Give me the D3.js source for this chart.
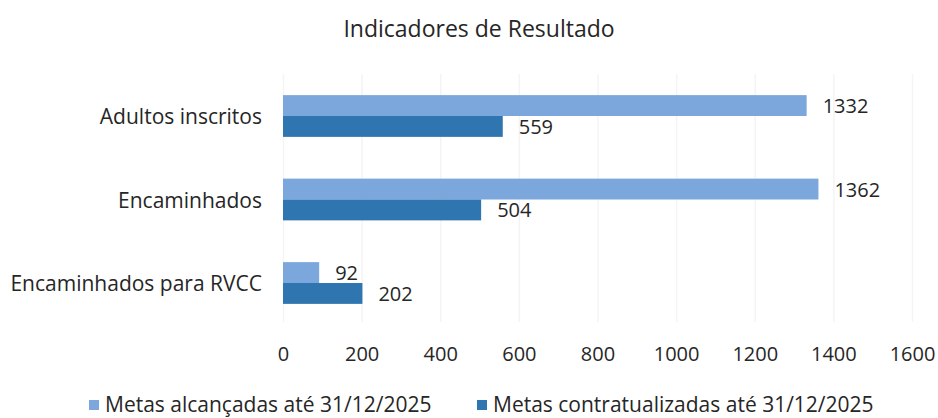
<!DOCTYPE html>
<html>
<head>
<meta charset="utf-8">
<script src="https://cdn.jsdelivr.net/npm/d3@7"></script>
<style>
  body { margin: 0; background: #fff; }
  svg text { font-family: 'Open Sans', sans-serif; fill: #262626; }
  .grid line { stroke: #f4f4f4; stroke-width: 1.5; }
  .grid .domain { display: none; }
</style>
</head>
<body>
<svg id="canvas" width="938" height="418"></svg>
<script>
const categories = ['Adultos inscritos', 'Encaminhados', 'Encaminhados para RVCC'];
const seriesNames = ['Metas alcançadas até 31/12/2025', 'Metas contratualizadas até 31/12/2025'];
const alcancadas = [1332, 1362, 92];
const contratualizadas = [559, 504, 202];
const xTicks = [0, 200, 400, 600, 800, 1000, 1200, 1400, 1600];
const colors = ['#7ba7dd', '#2f75b0'];

const canvas = d3.select('#canvas');

const x = d3.scaleLinear().domain([0, 1600]).range([283, 912]);
const y = d3.scaleBand().domain(categories).range([74.25, 324.75])
  .paddingInner(0.5).paddingOuter(0.25);
const ySub = d3.scaleBand().domain(seriesNames).range([0, y.bandwidth()]);

const rows = categories.map((c, i) => ({
  category: c,
  values: [alcancadas[i], contratualizadas[i]]
}));

// gridlines
canvas.append('g')
  .attr('class', 'grid')
  .attr('transform', 'translate(0,322)')
  .call(d3.axisBottom(x).tickValues(xTicks).tickSize(-248).tickFormat(''));

// title
canvas.append('text')
  .attr('x', 479)
  .attr('y', 28)
  .attr('text-anchor', 'middle')
  .attr('dominant-baseline', 'central')
  .style('font-size', '23px')
  .text('Indicadores de Resultado');

const groups = canvas.selectAll('.row')
  .data(rows)
  .enter()
  .append('g')
  .attr('class', 'row')
  .attr('transform', (d) => `translate(0,${y(d.category)})`);

groups.append('text')
  .attr('x', 262)
  .attr('y', y.bandwidth() / 2)
  .attr('text-anchor', 'end')
  .attr('dominant-baseline', 'central')
  .style('font-size', '21px')
  .text((d) => d.category);

groups.selectAll('rect')
  .data((d) => d.values.map((v, i) => ({ series: seriesNames[i], value: v, i })))
  .enter()
  .append('rect')
  .attr('x', x(0))
  .attr('y', (d) => ySub(d.series))
  .attr('width', (d) => x(d.value) - x(0))
  .attr('height', ySub.bandwidth())
  .attr('fill', (d) => colors[d.i]);

groups.selectAll('.value')
  .data((d) => d.values.map((v, i) => ({ series: seriesNames[i], value: v })))
  .enter()
  .append('text')
  .attr('class', 'value')
  .attr('x', (d) => x(d.value) + 16)
  .attr('y', (d) => ySub(d.series) + ySub.bandwidth() / 2)
  .attr('dominant-baseline', 'central')
  .style('font-size', '20px')
  .text((d) => d.value);

// x tick labels
const xAxis = canvas.append('g')
  .attr('transform', 'translate(0,340)')
  .call(d3.axisBottom(x).tickValues(xTicks).tickFormat(d3.format('d')).tickSize(0).tickPadding(0));
xAxis.select('.domain').remove();
xAxis.selectAll('text')
  .attr('dy', null)
  .attr('y', 13)
  .attr('dominant-baseline', 'central')
  .style('font-family', "'Open Sans', sans-serif")
  .style('font-size', '20px')
  .attr('fill', '#262626');

// legend
const legendX = [89, 477];
const legend = canvas.selectAll('.legend')
  .data(seriesNames)
  .enter()
  .append('g')
  .attr('class', 'legend')
  .attr('transform', (d, i) => `translate(${legendX[i]},404)`);

legend.append('rect')
  .attr('x', 0)
  .attr('y', -4)
  .attr('width', 10)
  .attr('height', 10)
  .attr('fill', (d, i) => colors[i]);

legend.append('text')
  .attr('x', 16)
  .attr('y', 0)
  .attr('dominant-baseline', 'central')
  .style('font-size', '21px')
  .text((d) => d);
</script>
</body>
</html>
